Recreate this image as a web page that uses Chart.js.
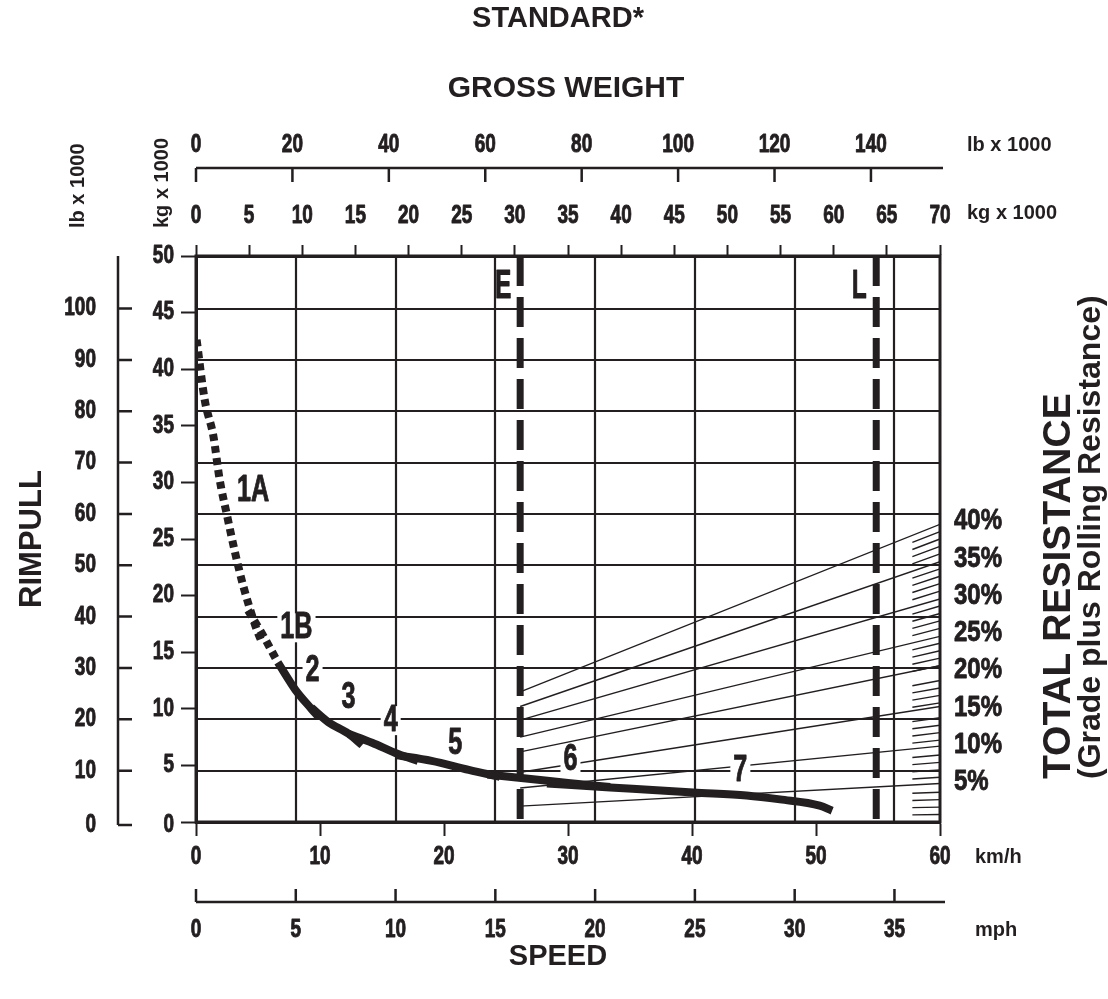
<!DOCTYPE html>
<html>
<head>
<meta charset="utf-8">
<script src="https://cdn.jsdelivr.net/npm/chart.js@4.4.0/dist/chart.umd.min.js"></script>
<style>
  html, body { margin: 0; padding: 0; background: #fff; }
</style>
</head>
<body>
<canvas id="rimpull" width="1108" height="999"></canvas>
<script>
// unit conversions
const LB_PER_KG = 2.20462;
const KMH_PER_MPH = 1.609344;

// axis ticks
const kmhTicks = [0, 10, 20, 30, 40, 50, 60];
const mphTicks = [0, 5, 10, 15, 20, 25, 30, 35];
const kgWeightTicks = [0, 5, 10, 15, 20, 25, 30, 35, 40, 45, 50, 55, 60, 65, 70];
const lbWeightTicks = [0, 20, 40, 60, 80, 100, 120, 140];
const kgPullTicks = [0, 5, 10, 15, 20, 25, 30, 35, 40, 45, 50];
const lbPullTicks = [0, 10, 20, 30, 40, 50, 60, 70, 80, 90, 100];
const gradeTicks = [5, 10, 15, 20, 25, 30, 35, 40];
const hatchGrades = [1, 2, 3, 4, 6, 7, 8, 9, 11, 12, 13, 14, 16, 17, 18, 19,
  21, 22, 23, 24, 26, 27, 28, 29, 31, 32, 33, 34, 36, 37, 38, 39];

// rimpull per gear: [km/h, kg x 1000]
const gear1A = [[0.05, 42.6], [0.7, 37.3], [1.4, 34.1], [1.9, 30.3], [2.5, 27.1], [3.15, 23.8], [3.8, 20.9], [4.8, 17.3], [5.3, 15.9]];
const gear1B = [[4.2, 18.7], [5.4, 16.5], [6.6, 14.1]];
const gear2 = [[6.6, 14.1], [8.0, 11.7], [9.3, 10.0], [9.9, 9.25]];
const gear3 = [[9.3, 10.1], [10.7, 8.8], [12.3, 7.8], [13.4, 6.8]];
const gear4 = [[12.3, 7.8], [14.2, 7.0], [16.3, 6.0], [17.9, 5.4]];
const gear5 = [[16.2, 5.9], [19.0, 5.4], [22.0, 4.6], [24.5, 4.0]];
const gear6 = [[23.5, 4.2], [27.0, 3.8], [30.0, 3.45], [33.4, 3.1]];
const gear7 = [[28.3, 3.4], [33.4, 3.05], [40.1, 2.6], [44.4, 2.35], [47.1, 2.0], [50.3, 1.45], [51.3, 1.0]];

const gearNames = ['1A', '1B', '2', '3', '4', '5', '6', '7'];
const gearLabelKmh = [4.6, 8.1, 9.4, 12.3, 15.7, 20.9, 30.2, 43.9];
const gearLabelPull = [29.3, 17.2, 13.4, 11.0, 9.0, 7.0, 5.6, 4.6];

// gross weight lines (kg x 1000)
const weightNames = ['E', 'L'];
const weightKg = [30.5, 64.0];
const weightLabelPull = 47.4;
const maxWeight = 70;

// total resistance lines: rimpull (kg x 1000) at E and at 70 t
const resGrades = [5, 10, 15, 20, 25, 30, 35, 40];
const resAtEmpty = [1.4, 3.0, 4.4, 6.2, 7.5, 9.0, 10.2, 11.5];
const resAtMax = [3.4, 6.7, 10.2, 13.8, 16.4, 19.7, 23.0, 26.3];
const hatchFromKg = 67.4;
const gradeAtTop = 76; // grade % reached at the top of the frame

const ink = '#231f20';
const SANS = "'Liberation Sans', Arial, sans-serif";

const toPts = arr => arr.map(p => ({ x: p[0], y: p[1] }));
const fixTicks = list => s => { s.ticks = list.map(v => ({ value: v })); };

const curve = { showLine: true, pointRadius: 0, borderColor: ink, borderWidth: 8,
  cubicInterpolationMode: 'monotone', xAxisID: 'x', yAxisID: 'y', borderCapStyle: 'butt' };

const datasets = [
  { ...curve, data: toPts(gear1A), borderDash: [7, 5] },
  { ...curve, data: toPts(gear1B), borderDash: [7, 5] },
  { ...curve, data: toPts(gear2) },
  { ...curve, data: toPts(gear3) },
  { ...curve, data: toPts(gear4) },
  { ...curve, data: toPts(gear5) },
  { ...curve, data: toPts(gear6) },
  { ...curve, data: toPts(gear7) }
];
weightKg.forEach(w => {
  datasets.push({ showLine: true, pointRadius: 0, borderColor: ink, borderWidth: 7,
    borderDash: [30, 11], xAxisID: 'xKg', yAxisID: 'y',
    data: [{ x: w, y: 50 }, { x: w, y: 0 }] });
});
resGrades.forEach((g, i) => {
  datasets.push({ showLine: true, pointRadius: 0, borderColor: ink, borderWidth: 1.4,
    xAxisID: 'xKg', yAxisID: 'y',
    data: [{ x: weightKg[0], y: resAtEmpty[i] }, { x: maxWeight, y: resAtMax[i] }] });
});

function text(ctx, str, x, y, font, align, base, rot) {
  ctx.save();
  ctx.translate(x, y);
  if (rot) ctx.rotate(rot);
  ctx.font = font;
  ctx.textAlign = align;
  ctx.textBaseline = base;
  ctx.fillStyle = ink;
  ctx.fillText(str, 0, 0);
  ctx.restore();
}

// condensed heavy lettering, squeezed horizontally like the original type
function narrow(ctx, str, x, y, size, sx, align) {
  ctx.save();
  ctx.translate(x, y);
  ctx.scale(sx, 1);
  ctx.font = 'bold ' + size + 'px ' + SANS;
  ctx.textAlign = align || 'center';
  ctx.textBaseline = 'middle';
  ctx.fillStyle = ink;
  ctx.strokeStyle = ink;
  ctx.lineWidth = 0.9;
  ctx.lineJoin = 'round';
  ctx.fillText(str, 0, 0);
  ctx.strokeText(str, 0, 0);
  ctx.restore();
}
function narrowWidth(ctx, str, size, sx) {
  ctx.save();
  ctx.font = 'bold ' + size + 'px ' + SANS;
  const w = ctx.measureText(str).width * sx;
  ctx.restore();
  return w;
}

const overlay = {
  id: 'overlay',
  beforeDatasetsDraw(chart) {
    const { ctx, chartArea: a, scales } = chart;
    ctx.save();
    ctx.strokeStyle = ink;
    ctx.lineWidth = 2.2;
    ctx.beginPath();
    mphTicks.forEach(v => {
      if (v === 0) return;
      const x = Math.round(scales.xMph.getPixelForValue(v));
      ctx.moveTo(x, a.top); ctx.lineTo(x, a.bottom);
    });
    lbPullTicks.forEach(v => {
      if (v === 0) return;
      const y = Math.round(scales.yLb.getPixelForValue(v));
      ctx.moveTo(a.left, y); ctx.lineTo(a.right, y);
    });
    ctx.stroke();
    // hatch marks on the resistance scale
    ctx.lineWidth = 1.4;
    ctx.beginPath();
    const xL = scales.xKg.getPixelForValue(hatchFromKg);
    hatchGrades.forEach(g => {
      const yR = scales.yGrade.getPixelForValue(g);
      const vR = scales.y.getValueForPixel(yR);
      const yL = scales.y.getPixelForValue(vR * hatchFromKg / maxWeight);
      ctx.moveTo(xL, yL); ctx.lineTo(a.right, yR);
    });
    ctx.stroke();
    ctx.restore();
  },
  afterDatasetsDraw(chart) {
    const { ctx, chartArea: a, scales } = chart;
    ctx.save();
    ctx.strokeStyle = ink;
    ctx.lineWidth = 3;
    ctx.strokeRect(a.left, a.top, a.right - a.left, a.bottom - a.top);
    // gear labels on white
    gearNames.forEach((n, i) => {
      const x = scales.x.getPixelForValue(gearLabelKmh[i]);
      const y = scales.y.getPixelForValue(gearLabelPull[i]);
      const w = narrowWidth(ctx, n, 36, 0.7);
      ctx.fillStyle = '#fff';
      ctx.fillRect(x - w / 2 - 3, y - 14, w + 6, 29);
      narrow(ctx, n, x, y + 1, 36, 0.7);
    });
    weightNames.forEach((n, i) => {
      const x = scales.xKg.getPixelForValue(weightKg[i]);
      const y = scales.y.getPixelForValue(weightLabelPull);
      narrow(ctx, n, x - 17, y + 1, 41, 0.6);
    });
    ctx.restore();
  },
  afterDraw(chart) {
    const { ctx, chartArea: a, scales } = chart;
    const cx = (a.left + a.right) / 2;
    const NS = 25, SX = 0.76;
    const unit = 'bold 20px ' + SANS;
    ctx.save();
    ctx.strokeStyle = ink;
    ctx.lineWidth = 2.5;

    // labels of the chart's own scales
    kmhTicks.forEach(v => narrow(ctx, String(v), scales.x.getPixelForValue(v), a.bottom + 35, NS, SX));
    kgPullTicks.forEach(v => narrow(ctx, String(v), a.left - 22, scales.y.getPixelForValue(v) + (v === 0 ? 3 : 0), NS, SX, 'right'));
    kgWeightTicks.forEach(v => narrow(ctx, String(v), scales.xKg.getPixelForValue(v), a.top - 40, NS, SX));
    gradeTicks.forEach(v => narrow(ctx, v + '%', a.right + 14, scales.yGrade.getPixelForValue(v) - 3, 30, 0.8, 'left'));

    // lb x 1000 gross weight axis (top)
    const ty = a.top - 88;
    ctx.beginPath();
    ctx.moveTo(scales.xLb.getPixelForValue(0), ty);
    ctx.lineTo(a.right + 3, ty);
    lbWeightTicks.forEach(v => {
      const x = scales.xLb.getPixelForValue(v);
      ctx.moveTo(x, ty); ctx.lineTo(x, ty + 14);
    });
    ctx.stroke();
    lbWeightTicks.forEach(v => narrow(ctx, String(v), scales.xLb.getPixelForValue(v), ty - 23, NS, SX));
    text(ctx, 'lb x 1000', a.right + 27, ty - 23, unit, 'left', 'middle');
    text(ctx, 'kg x 1000', a.right + 27, a.top - 43, unit, 'left', 'middle');

    // lb x 1000 rimpull axis (left)
    const lx = a.left - 78;
    ctx.beginPath();
    ctx.moveTo(lx, a.top);
    ctx.lineTo(lx, a.bottom + 3);
    lbPullTicks.forEach(v => {
      const y = scales.yLb.getPixelForValue(v) + (v === 0 ? 3 : 0);
      ctx.moveTo(lx, y); ctx.lineTo(lx + 14, y);
    });
    ctx.stroke();
    lbPullTicks.forEach(v => narrow(ctx, String(v), lx - 22, scales.yLb.getPixelForValue(v) + (v === 0 ? 3 : 0), NS, SX, 'right'));

    // mph axis (bottom)
    const my = a.bottom + 80;
    ctx.beginPath();
    ctx.moveTo(scales.xMph.getPixelForValue(0), my);
    ctx.lineTo(a.right + 5, my);
    mphTicks.forEach(v => {
      const x = scales.xMph.getPixelForValue(v);
      ctx.moveTo(x, my); ctx.lineTo(x, my - 13);
    });
    ctx.stroke();
    mphTicks.forEach(v => narrow(ctx, String(v), scales.xMph.getPixelForValue(v), my + 28, NS, SX));
    text(ctx, 'mph', a.right + 35, my + 28, unit, 'left', 'middle');
    text(ctx, 'km/h', a.right + 35, a.bottom + 35, unit, 'left', 'middle');

    // titles
    const big = 'bold 29px ' + SANS;
    text(ctx, 'STANDARD*', cx - 10, 19, big, 'center', 'middle');
    text(ctx, 'GROSS WEIGHT', cx - 2, 89, 'bold 30px ' + SANS, 'center', 'middle');
    text(ctx, 'SPEED', cx - 10, 957, big, 'center', 'middle');
    text(ctx, 'RIMPULL', 41, (a.top + a.bottom) / 2, 'bold 31px ' + SANS, 'center', 'alphabetic', -Math.PI / 2);
    text(ctx, 'lb x 1000', 84, a.top - 28, unit, 'left', 'alphabetic', -Math.PI / 2);
    text(ctx, 'kg x 1000', 168, a.top - 28, unit, 'left', 'alphabetic', -Math.PI / 2);
    text(ctx, 'TOTAL RESISTANCE', 1070, 779, 'bold 39px ' + SANS, 'left', 'alphabetic', -Math.PI / 2);
    text(ctx, '(Grade plus Rolling Resistance)', 1100, 779, 'bold 32px ' + SANS, 'left', 'alphabetic', -Math.PI / 2);
    ctx.restore();
  }
};

new Chart(document.getElementById('rimpull').getContext('2d'), {
  type: 'scatter',
  data: { datasets: datasets },
  options: {
    responsive: false,
    animation: false,
    layout: { padding: { left: 136, right: 108, top: 196, bottom: 127 } },
    plugins: { legend: { display: false }, tooltip: { enabled: false } },
    scales: {
      x: {
        type: 'linear', position: 'bottom', min: 0, max: 60,
        afterBuildTicks: fixTicks(kmhTicks),
        afterFit: s => { s.height = 50; },
        grid: { drawOnChartArea: false, tickLength: 14, tickWidth: 2, tickColor: ink },
        border: { color: ink, width: 3 },
        ticks: { display: false, autoSkip: false }
      },
      y: {
        type: 'linear', position: 'left', min: 0, max: 50,
        afterBuildTicks: fixTicks(kgPullTicks),
        afterFit: s => { s.width = 60; },
        grid: { drawOnChartArea: false, tickLength: 15, tickWidth: 2, tickColor: ink },
        border: { color: ink, width: 3 },
        ticks: { display: false, autoSkip: false }
      },
      xKg: {
        type: 'linear', axis: 'x', position: 'top', min: 0, max: maxWeight,
        afterBuildTicks: fixTicks(kgWeightTicks),
        afterFit: s => { s.height = 60; },
        grid: { drawOnChartArea: false, tickLength: 11, tickWidth: 2, tickColor: ink },
        border: { color: ink, width: 3 },
        ticks: { display: false, autoSkip: false }
      },
      yGrade: {
        type: 'linear', axis: 'y', position: 'right', min: 0, max: gradeAtTop,
        afterBuildTicks: fixTicks(gradeTicks),
        afterFit: s => { s.width = 60; },
        grid: { display: false, drawTicks: false },
        border: { display: false },
        ticks: { display: false }
      },
      xLb: { type: 'linear', axis: 'x', position: 'top', display: false, min: 0, max: maxWeight * LB_PER_KG },
      xMph: { type: 'linear', axis: 'x', position: 'bottom', display: false, min: 0, max: 60 / KMH_PER_MPH },
      yLb: { type: 'linear', axis: 'y', position: 'left', display: false, min: 0, max: 50 * LB_PER_KG }
    }
  },
  plugins: [overlay]
});
</script>
</body>
</html>
